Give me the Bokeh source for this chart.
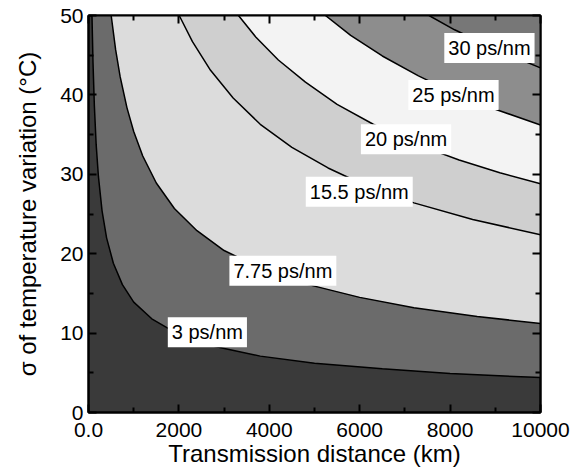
from bokeh.plotting import figure
from bokeh.models import Range1d, FixedTicker, LinearAxis, Label
from bokeh.embed import file_html
from bokeh.resources import INLINE

# ---------------- data ----------------
# contour levels (ps/nm) and their labels
level_labels = ["3 ps/nm", "7.75 ps/nm", "15.5 ps/nm", "20 ps/nm", "25 ps/nm", "30 ps/nm"]

# contour lines: transmission distance (km) and sigma (deg C)
c3_L = [77, 100, 130, 170, 220, 300, 400, 550, 750, 1000, 1400, 2000, 2800, 3800, 5000, 6500, 8000, 10000]
c3_s = [50, 44.0, 38.6, 33.7, 29.7, 25.4, 22.0, 18.8, 16.1, 13.9, 11.8, 9.8, 8.3, 7.1, 6.2, 5.5, 4.9, 4.4]

c775_L = [502, 600, 700, 850, 1000, 1200, 1500, 1900, 2400, 3000, 3800, 4800, 6000, 7200, 8600, 10000]
c775_s = [50, 45.7, 42.3, 38.4, 35.4, 32.3, 28.9, 25.7, 22.9, 20.4, 18.2, 16.2, 14.5, 13.2, 12.1, 11.2]

c155_L = [2007, 2300, 2700, 3200, 3800, 4500, 5300, 6200, 7200, 8500, 10000]
c155_s = [50, 46.7, 43.1, 39.6, 36.3, 33.4, 30.8, 28.4, 26.4, 24.3, 22.4]

c20_L = [3318, 3700, 4200, 4800, 5500, 6300, 7200, 8200, 9100, 10000]
c20_s = [50, 47.3, 44.4, 41.6, 38.8, 36.3, 33.9, 31.8, 30.2, 28.8]

c25_L = [5242, 5800, 6500, 7300, 8100, 9000, 10000]
c25_s = [50, 47.5, 44.9, 42.4, 40.2, 38.2, 36.2]

c30_L = [7534, 8100, 8800, 9400, 10000]
c30_s = [50, 48.2, 46.3, 44.8, 43.4]

# label anchor points (data coordinates)
label_L = [2630, 4300, 5990, 7025, 8075, 8870]
label_s = [10.1, 17.85, 27.8, 34.4, 40.0, 45.9]

x_ticks = [0, 2000, 4000, 6000, 8000, 10000]
x_tick_labels = ["0.0", "2000", "4000", "6000", "8000", "10000"]
x_minor = [1000, 3000, 5000, 7000, 9000]
y_ticks = [0, 10, 20, 30, 40, 50]
y_minor = [5, 15, 25, 35, 45]

# ---------------- styling ----------------
curves = [(c3_L, c3_s), (c775_L, c775_s), (c155_L, c155_s),
          (c20_L, c20_s), (c25_L, c25_s), (c30_L, c30_s)]
base_color = "#3a3a3a"
above_colors = ["#6b6b6b", "#dcdcdc", "#cfcfcf", "#f3f3f3", "#8d8d8d", "#777777"]
FONT = "Liberation Sans"

p = figure(width=573, height=471, output_backend="svg", toolbar_location=None,
           x_range=Range1d(0, 10000), y_range=Range1d(0, 50),
           min_border_left=88, min_border_right=33, min_border_top=15, min_border_bottom=59)
p.background_fill_color = base_color
p.border_fill_color = "white"
p.outline_line_color = "black"
p.outline_line_width = 2
p.xgrid.visible = False
p.ygrid.visible = False

for (L, s), col in zip(curves, above_colors):
    p.patch(list(L) + [10000], list(s) + [50], fill_color=col, line_color=None)

for L, s in curves:
    p.line(L, s, line_color="black", line_width=1.5)

for txt, lx, ly in zip(level_labels, label_L, label_s):
    p.add_layout(Label(x=lx, y=ly, text=txt, text_align="center", text_baseline="middle",
                       text_font=FONT, text_font_size="20px", text_color="black",
                       background_fill_color="white", padding=4))

xt = FixedTicker(ticks=x_ticks, minor_ticks=x_minor)
yt = FixedTicker(ticks=y_ticks, minor_ticks=y_minor)

def style_axis(ax):
    ax.axis_line_width = 2
    ax.major_tick_in = 8
    ax.major_tick_out = 0
    ax.minor_tick_in = 5
    ax.minor_tick_out = 0
    ax.major_tick_line_width = 2
    ax.minor_tick_line_width = 2
    ax.major_label_text_font = FONT
    ax.axis_label_text_font = FONT
    ax.axis_label_text_font_style = "normal"
    ax.major_label_text_color = "black"
    ax.axis_label_text_color = "black"

xa = p.xaxis[0]
xa.ticker = xt
xa.major_label_overrides = {t: l for t, l in zip(x_ticks, x_tick_labels)}
style_axis(xa)
xa.major_label_text_font_size = "21px"
xa.axis_label = "Transmission distance (km)"
xa.axis_label_text_font_size = "24px"
xa.major_label_standoff = 10
xa.axis_label_standoff = 0

ya = p.yaxis[0]
ya.ticker = yt
style_axis(ya)
ya.major_label_text_font_size = "21px"
ya.axis_label = "σ of temperature variation (°C)"
ya.axis_label_text_font_size = "24px"
ya.major_label_standoff = 5
ya.axis_label_standoff = 16

# mirrored tick marks on the top and right edges (no labels)
top = LinearAxis(ticker=FixedTicker(ticks=x_ticks, minor_ticks=x_minor))
style_axis(top)
top.major_label_overrides = {t: "" for t in x_ticks}
top.major_label_standoff = 0
p.add_layout(top, "above")
right = LinearAxis(ticker=FixedTicker(ticks=y_ticks, minor_ticks=y_minor))
style_axis(right)
right.major_label_overrides = {t: "" for t in y_ticks}
right.major_label_standoff = 0
p.add_layout(right, "right")

open("out.html", "w").write(file_html(p, INLINE))
